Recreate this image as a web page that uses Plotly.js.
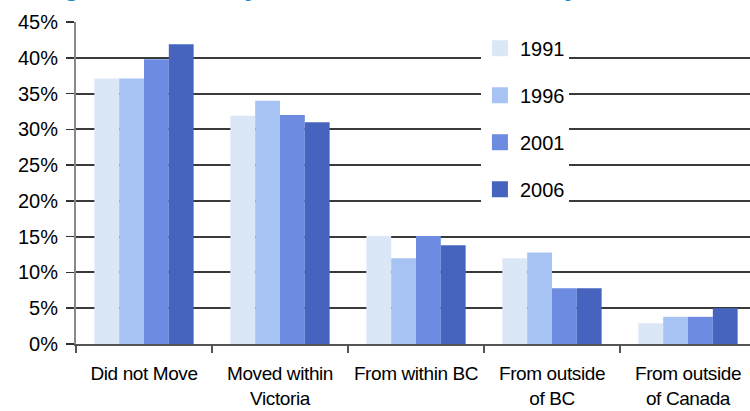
<!DOCTYPE html>
<html>
<head>
<meta charset="utf-8">
<script src="https://cdn.plot.ly/plotly-3.0.1.min.js"></script>
<style>
html,body{margin:0;padding:0;overflow:hidden;background:#fff;}
#chart{width:760px;height:411px;}
.xtick text{letter-spacing:-0.4px;}
</style>
</head>
<body>
<div id="chart"></div>
<script>
const categories = ["Did not Move", "Moved within<br>Victoria", "From within BC", "From outside<br>of BC", "From outside<br>of Canada"];
const years = ["1991", "1996", "2001", "2006"];
const v1991 = [37.1, 31.9, 15.1, 12.0, 2.9];
const v1996 = [37.1, 34.0, 12.0, 12.8, 3.8];
const v2001 = [39.8, 32.0, 15.1, 7.8, 3.8];
const v2006 = [41.9, 31.0, 13.8, 7.8, 5.0];
const yTicks = [0, 5, 10, 15, 20, 25, 30, 35, 40, 45];
const titleText = "Figure 4: Mobility Status of Residents, City of Victoria";

const series = [v1991, v1996, v2001, v2006];
const colors = ["#DAE7F7", "#A6C3F3", "#6C8BE1", "#4664BE"];

const traces = [];
series.forEach((vals, i) => {
  traces.push({
    type: "bar", x: categories, y: vals, name: years[i],
    marker: {color: colors[i], line: {width: 0}},
    showlegend: false, hoverinfo: "skip"
  });
});
series.forEach((vals, i) => {
  traces.push({
    type: "scatter", mode: "markers", x: [null], y: [null], name: years[i],
    legendgroup: "g" + i,
    marker: {symbol: "square", size: 16, color: colors[i], line: {width: 0}},
    showlegend: true, hoverinfo: "skip"
  });
});

const layout = {
  width: 760, height: 411,
  margin: {l: 76, r: 4, t: 22, b: 67},
  paper_bgcolor: "#fff", plot_bgcolor: "#fff",
  font: {family: "Liberation Sans, Arial, sans-serif", color: "#000"},
  barmode: "group", bargap: 0.27, bargroupgap: 0,
  showlegend: true,
  legend: {
    x: 0.594, xanchor: "left", y: 0.979, yanchor: "top",
    bgcolor: "rgba(255,255,255,0)", borderwidth: 0,
    font: {size: 20, family: "Liberation Sans, Arial, sans-serif", color: "#000"},
    traceorder: "grouped", tracegroupgap: 18, itemsizing: "trace"
  },
  xaxis: {
    type: "category",
    tickson: "boundaries", ticks: "outside", ticklen: 7, tickwidth: 1.5, tickcolor: "#555",
    showline: true, linecolor: "#555", linewidth: 2,
    showgrid: false, zeroline: false,
    tickangle: 0,
    tickfont: {family: "Liberation Sans, Arial, sans-serif", size: 19, color: "#000"},
    ticklabelstandoff: 11,
    automargin: false
  },
  yaxis: {
    range: [0, 45], tickvals: yTicks, ticktext: yTicks.map(v => v + "%"),
    ticks: "outside", ticklen: 8, tickwidth: 1.5, tickcolor: "#333",
    showline: true, linecolor: "#888", linewidth: 2,
    showgrid: true, gridcolor: "#3a3a3a", gridwidth: 2,
    zeroline: false,
    tickfont: {family: "Liberation Sans, Arial, sans-serif", size: 20, color: "#000"},
    ticklabelstandoff: 4,
    automargin: false
  },
  shapes: [{
    type: "rect", xref: "paper", yref: "paper",
    x0: 0.5956, x1: 0.725, y0: 0.436, y1: 1.01,
    fillcolor: "#fff", line: {width: 0}, layer: "above"
  }],
  annotations: [{
    text: "<b>" + titleText + "</b>",
    xref: "paper", yref: "paper", x: -0.0559, y: 1, xanchor: "left", yanchor: "bottom",
    yshift: 17.5, showarrow: false,
    font: {family: "Liberation Sans, Arial, sans-serif", size: 26.5, color: "#1A8CC0"}
  }]
};

Plotly.newPlot("chart", traces, layout, {displayModeBar: false, staticPlot: true});
</script>
</body>
</html>
